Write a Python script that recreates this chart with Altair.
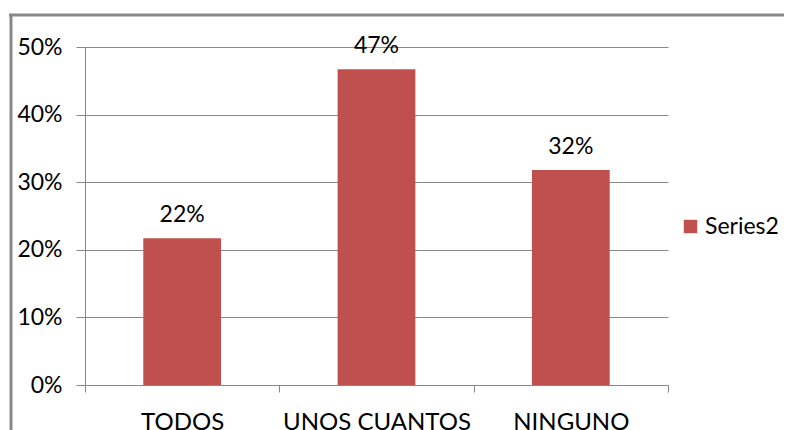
import altair as alt
import pandas as pd

categories = ["TODOS", "UNOS CUANTOS", "NINGUNO"]
values = [0.217, 0.467, 0.318]
labels = ["22%", "47%", "32%"]
series = ["Series2"] * 3

df = pd.DataFrame({"cat": categories, "val": values, "lab": labels, "series": series})

FONT = "Lato"
GRAY = "#888888"
FS = 23

x_enc = alt.X(
    "cat:N", sort=categories, title=None,
    scale=alt.Scale(paddingInner=0, paddingOuter=0),
    axis=alt.Axis(labelAngle=0, tickBand="extent", ticks=True, tickSize=7, labelLimit=0,
                  domainColor=GRAY, tickColor=GRAY, labelFont=FONT, labelFontSize=24,
                  labelColor="#000000", labelPadding=18, grid=False),
)
y_enc = alt.Y(
    "val:Q", title=None,
    scale=alt.Scale(domain=[0, 0.5], nice=False),
    axis=alt.Axis(format=".0%", values=[0, 0.1, 0.2, 0.3, 0.4, 0.5], tickSize=9,
                  domainColor=GRAY, tickColor=GRAY, gridColor=GRAY, grid=True,
                  labelFont=FONT, labelFontSize=FS, labelColor="#000000", labelPadding=14),
)

one = pd.DataFrame({"a": [0]})
border_top = alt.Chart(one).mark_rule(stroke=GRAY, strokeWidth=3, strokeCap="butt").encode(
    x=alt.value(-76), x2=alt.value(699), y=alt.value(-32))
border_left = alt.Chart(one).mark_rule(stroke=GRAY, strokeWidth=3, strokeCap="butt").encode(
    x=alt.value(-74), y=alt.value(-33), y2=alt.value(400))

bars = alt.Chart(df).mark_bar(width=alt.RelativeBandSize(0.4)).encode(
    x=x_enc, y=y_enc,
    color=alt.Color("series:N", title=None,
                    scale=alt.Scale(domain=["Series2"], range=["#C0504D"]),
                    legend=alt.Legend(orient="none", legendX=594, legendY=168,
                                      symbolType="square", symbolSize=180,
                                      symbolStrokeWidth=0, labelFont=FONT, labelFontSize=FS,
                                      labelColor="#000000", labelOffset=3)),
)

text = alt.Chart(df).mark_text(baseline="bottom", dy=-11, font=FONT, fontSize=FS, color="#000000").encode(
    x=alt.X("cat:N", sort=categories), y="val:Q", text="lab:N"
)

chart = alt.layer(border_top, border_left, bars, text).properties(
    width=583, height=338,
    autosize=alt.AutoSizeParams(type="none"),
    padding={"left": 77, "top": 39, "right": 116, "bottom": 52},
).configure_view(strokeWidth=0)

chart.save("out.html", embed_options={"renderer": "svg", "actions": False})
